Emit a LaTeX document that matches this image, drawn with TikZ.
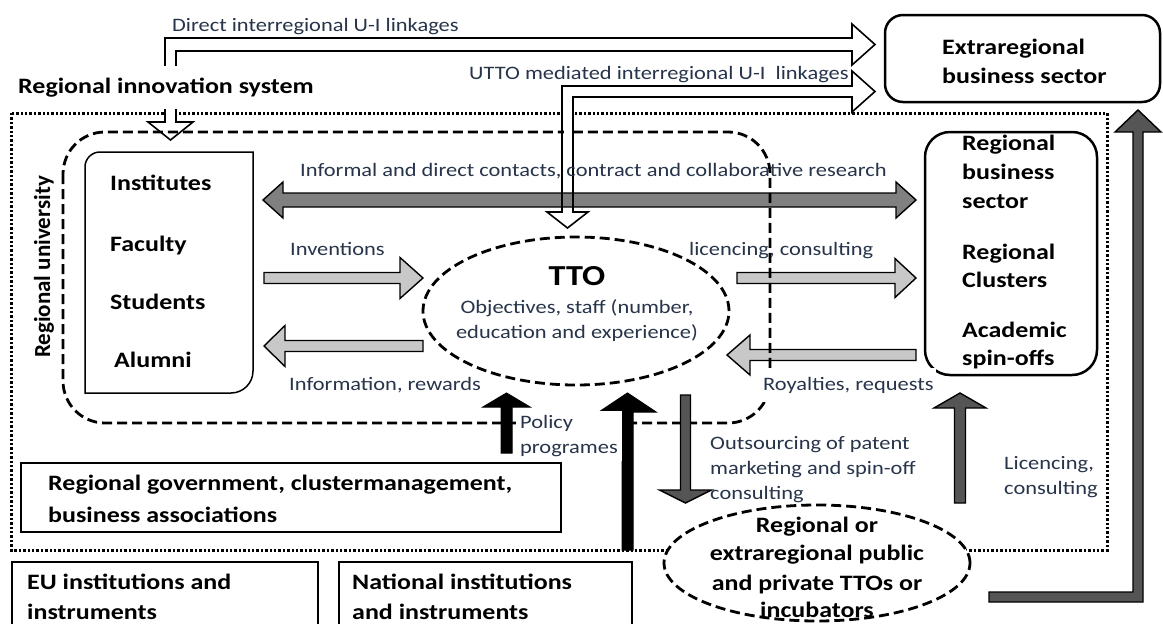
\documentclass[tikz,border=0pt]{standalone}
\usepackage{fontspec}
\setmainfont{Carlito}[FakeStretch=1.18]
\newfontfamily\rotfont{Carlito}
\usetikzlibrary{shapes.geometric}
\definecolor{txt}{HTML}{27344A}
\definecolor{lgray}{HTML}{C8C8C8}
\definecolor{mgray}{HTML}{808080}
\definecolor{dgray}{HTML}{555555}
\newcommand\BlkH[7]{%
  \pgfmathsetmacro\BlkB{#3>#2 ? #3-#7 : #3+#7}%
  \draw[#1] (#2,#4-#5) -- (\BlkB,#4-#5) -- (\BlkB,#4-#6) -- (#3,#4) -- (\BlkB,#4+#6) -- (\BlkB,#4+#5) -- (#2,#4+#5) -- cycle;}
\newcommand\BlkV[7]{%
  \pgfmathsetmacro\BlkB{#4>#3 ? #4-#7 : #4+#7}%
  \draw[#1] (#2-#5,#3) -- (#2-#5,\BlkB) -- (#2-#6,\BlkB) -- (#2,#4) -- (#2+#6,\BlkB) -- (#2+#5,\BlkB) -- (#2+#5,#3) -- cycle;}
\begin{document}
\begin{tikzpicture}[x=1pt,y=-1pt,
  bt/.style={font=\bfseries\fontsize{22}{26}\selectfont, inner sep=0pt, anchor=base west},
  btc/.style={font=\bfseries\fontsize{22}{26}\selectfont, inner sep=0pt, anchor=base},
  rt/.style={font=\fontsize{19}{25}\selectfont, text=txt, inner sep=0pt, anchor=base west},
  rtc/.style={font=\fontsize{19}{25}\selectfont, text=txt, inner sep=0pt, anchor=base},
  dotbox/.style={line width=3pt, dash pattern=on 2.4pt off 2pt},
  dashln/.style={line width=2.8pt, dash pattern=on 10pt off 5pt},
  hollow/.style={draw=black, line width=1.6pt, fill=white, line join=miter},
  larrow/.style={draw=black, line width=1.4pt, fill=lgray},
  garrow/.style={draw=black, line width=1.4pt, fill=mgray},
  darrow/.style={draw=black, line width=1.4pt, fill=dgray},
  blkarrow/.style={draw=black, line width=1pt, fill=black},
  frame/.style={draw=black, line width=2.8pt}
]
\useasboundingbox[fill=white] (0,0) rectangle (1163,624);

% regional innovation system frame
\draw[dotbox] (11.5,113) rectangle (1107,550);

% hollow arrows
\draw[hollow] (165,122) -- (165,38) -- (852,38) -- (852,24) -- (875,44.5) -- (852,65) -- (852,51) -- (176,51) -- (176,122) -- (193,122) -- (170.5,140) -- (148,122) -- cycle;
\draw[hollow] (562,212) -- (562,86) -- (852,86) -- (852,71) -- (875,91.5) -- (852,112) -- (852,97) -- (573,97) -- (573,212) -- (588,212) -- (567.5,228) -- (547,212) -- cycle;

% extraregional business sector
\node[draw, line width=2.5pt, rounded corners=18pt, minimum width=275pt, minimum height=87pt] (ext) at (1022.5,58.5) {};

% university members box
\draw[line width=1.5pt] (85,393) -- (85,167) arc[start angle=180,end angle=270,radius=15] -- (253,152) -- (253,371) arc[start angle=0,end angle=90,radius=22] -- cycle;

% regional business box
\node[draw, line width=2.5pt, rounded corners=25pt, minimum width=172pt, minimum height=243pt] (rbs) at (1011,253.5) {};

% gray double arrow
\draw[garrow] (263,200) -- (283,182) -- (283,193) -- (896,193) -- (896,182) -- (916,200) -- (896,218) -- (896,207) -- (283,207) -- (283,218) -- cycle;
\draw[line width=1.6pt] (562,188) -- (562,212) (573,188) -- (573,212);

% light arrows
\BlkH{larrow}{264}{423}{278}{5.5}{20.5}{23}
\BlkH{larrow}{423}{264}{346}{5.5}{20.5}{21}
\BlkH{larrow}{737}{916}{278}{5.5}{19.5}{21}
\BlkH{larrow}{916}{727}{355}{5.5}{20}{23}

% regional university (dashed)
\draw[dashln, rounded corners=42pt] (63,132) rectangle (770,423);
\fill[white] (563.6,126) rectangle (571.4,138);

% TTO ellipse
\node[draw, dashln, ellipse, minimum width=306pt, minimum height=148pt, inner sep=0pt] (tto) at (576,311) {};

% policy arrows
\BlkV{blkarrow}{506.5}{453}{393}{5.5}{23.5}{14}
\BlkV{blkarrow}{627.5}{550}{393}{5.5}{28.5}{19}
\BlkV{darrow}{685.5}{395}{503}{5}{26}{13}
\BlkV{darrow}{960}{503}{393}{5.5}{26}{15}
\draw[darrow] (989,592) -- (1133,592) -- (1133,132) -- (1115,132) -- (1138,110) -- (1161,132) -- (1143,132) -- (1143,602) -- (989,602) -- cycle;

% lower boxes
\node[frame, minimum width=540pt, minimum height=69pt] (gov) at (291,497.5) {};
\node[frame, minimum width=306pt, minimum height=80pt] (eu) at (165,602) {};
\node[frame, minimum width=293pt, minimum height=80pt] (nat) at (485.5,602) {};
\node[draw, dashln, fill=white, ellipse, minimum width=306pt, minimum height=116pt, inner sep=0pt] (ext2) at (817,563) {};

% texts
\node[rt] (t1) at (172,31) {Direct interregional U-I linkages};
\node[rt] (t2) at (469,79) {UTTO mediated interregional U-I\ \ linkages};
\node[bt, fill=white, inner xsep=3pt, inner ysep=12pt] (ris) at (15,93) {Regional innovation system};
\node[bt] (e1) at (942,54) {Extraregional};
\node[bt] (e2) at (942,83) {business sector};
\node[rt] (t3) at (300,176) {Informal and direct contacts, contract and collaborative research};
\node[font=\rotfont\bfseries\fontsize{23}{26}\selectfont, rotate=90, inner sep=0pt] (ru) at (44,267) {Regional university};
\node[bt] (m1) at (110,190) {Institutes};
\node[bt] (m2) at (110,251) {Faculty};
\node[bt] (m3) at (110,309) {Students};
\node[bt] (m4) at (114,367) {Alumni};
\node[rt] (inv) at (290,255) {Inventions};
\node[rt] (inf) at (289,390) {Information, rewards};
\node[rt] (lic) at (689,255) {licencing, consulting};
\node[rt, fill=white, inner xsep=2pt, inner ysep=9pt] (roy) at (761,390) {Royalties, requests};
\node[font=\bfseries\fontsize{29}{32}\selectfont, inner sep=0pt, anchor=base] (ttot) at (577,285) {TTO};
\node[rtc] (o1) at (577,313) {Objectives, staff (number,};
\node[rtc] (o2) at (577,338) {education and experience)};
\node[bt] (r1) at (962,150) {Regional};
\node[bt] (r2) at (962,179) {business};
\node[bt] (r3) at (962,208) {sector};
\node[bt] (r4) at (962,259) {Regional};
\node[bt] (r5) at (962,287) {Clusters};
\node[bt] (r6) at (962,337) {Academic};
\node[bt] (r7) at (962,365) {spin-offs};
\node[rt, fill=white, align=left, inner xsep=4pt, inner ysep=4pt, anchor=north west] (pol) at (516,411) {Policy\\programes};
\node[rt] (out1) at (710,449) {Outsourcing of patent};
\node[rt] (out2) at (710,474) {marketing and spin-off};
\node[rt] (out3) at (710,499) {consulting};
\node[rt] (lc1) at (1004,469) {Licencing,};
\node[rt] (lc2) at (1004,494) {consulting};
\node[bt] (g1) at (48,490) {Regional government, clustermanagement,};
\node[bt] (g2) at (48,522) {business associations};
\node[bt] (eu1) at (27,589) {EU institutions and};
\node[bt] (eu2) at (27,619) {instruments};
\node[bt] (n1) at (352,589) {National institutions};
\node[bt] (n2) at (352,619) {and instruments};
\node[btc] (x1) at (817,532) {Regional or};
\node[btc] (x2) at (817,560) {extraregional public};
\node[btc] (x3) at (817,590) {and private TTOs or};
\node[btc] (x4) at (817,617) {incubators};
\end{tikzpicture}
\end{document}
